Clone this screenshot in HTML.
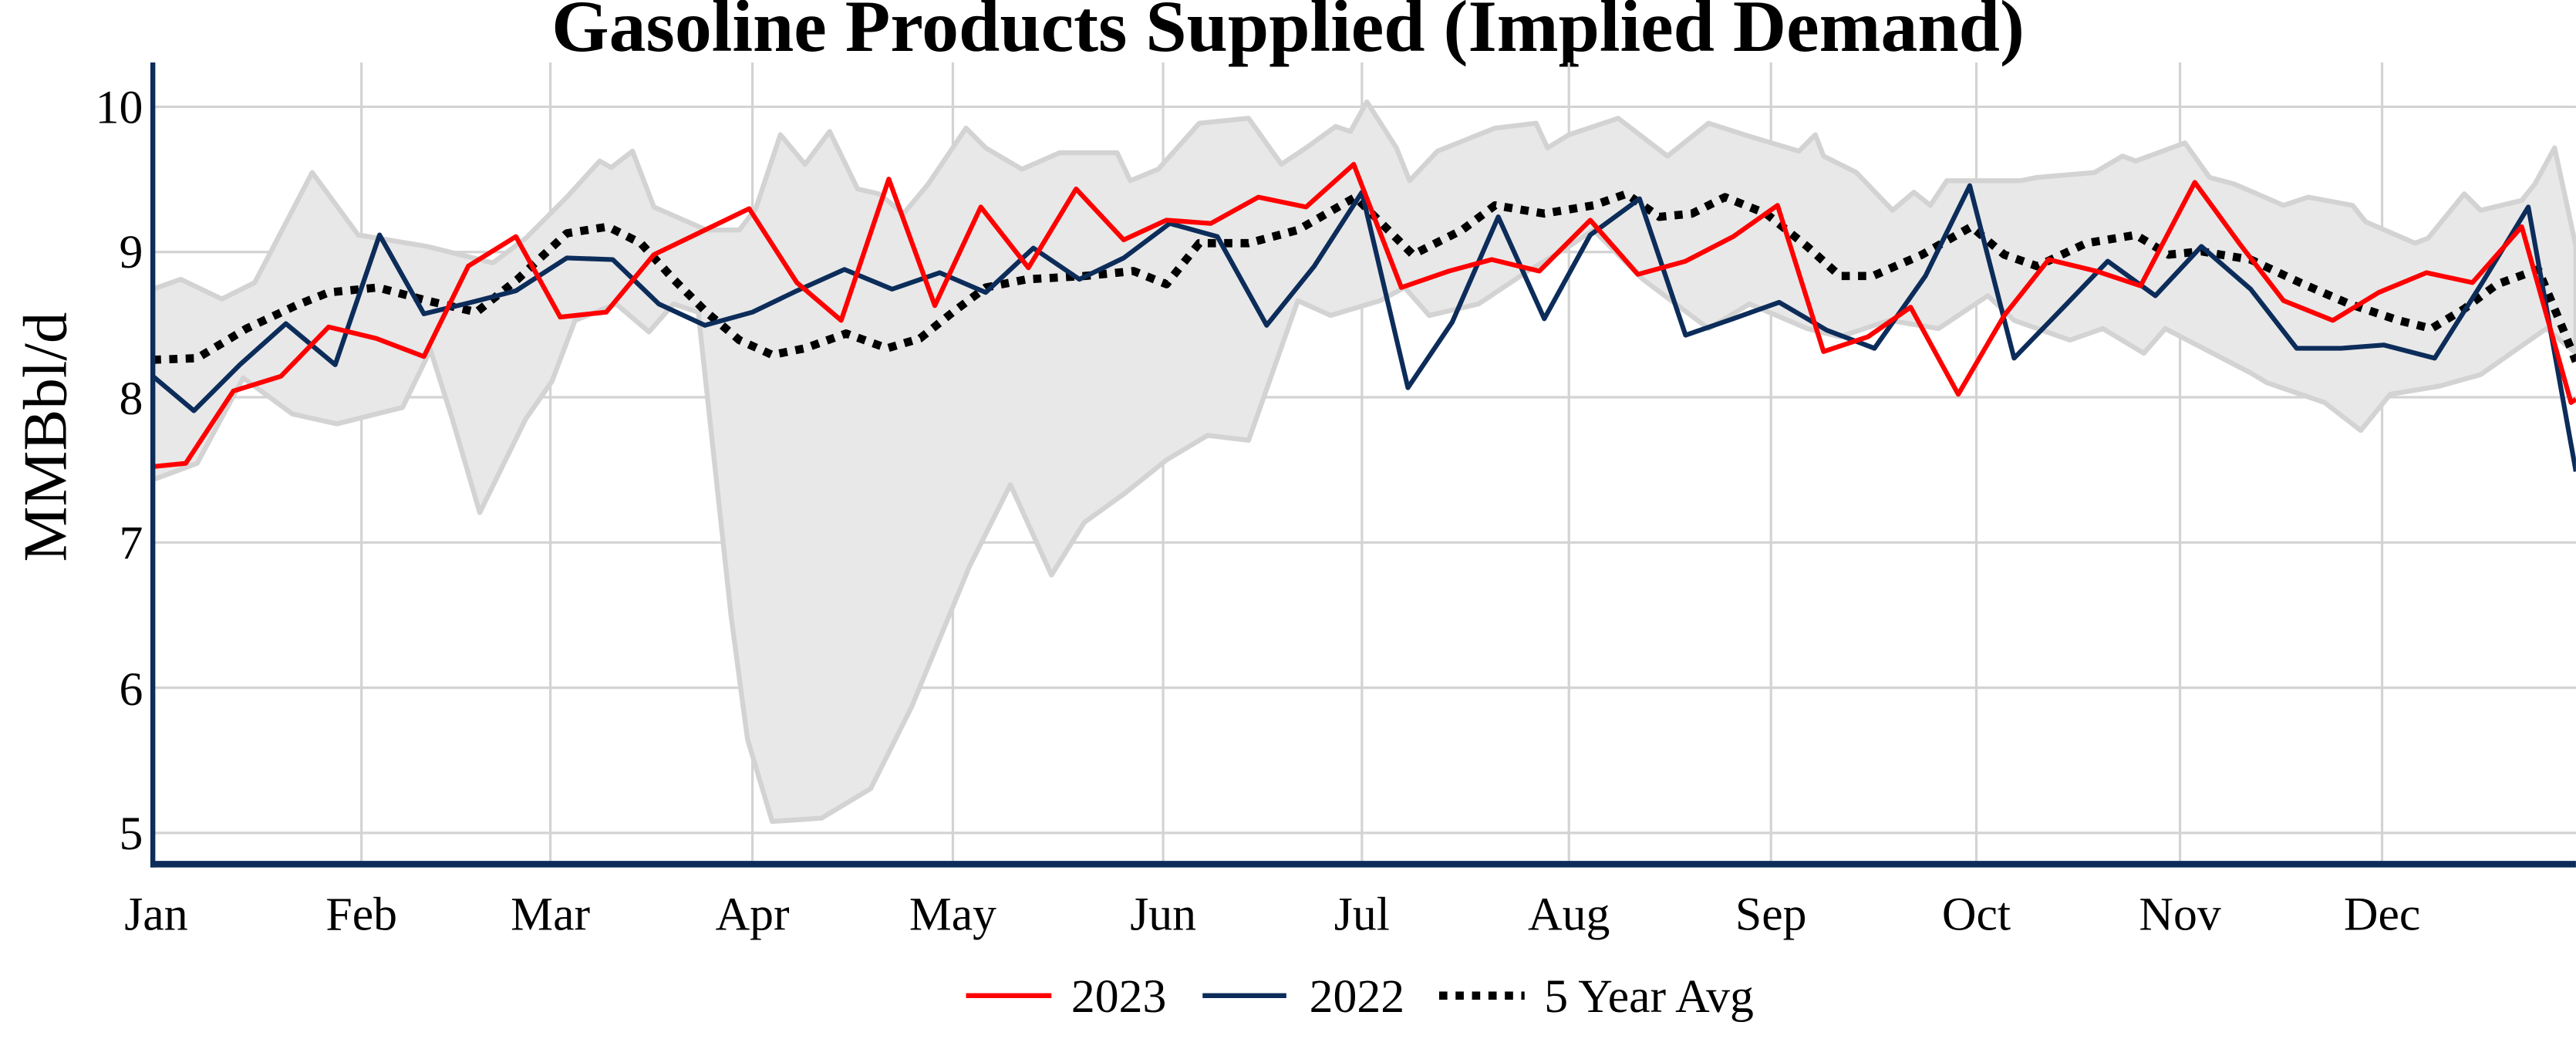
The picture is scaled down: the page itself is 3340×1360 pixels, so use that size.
<!DOCTYPE html>
<html><head><meta charset="utf-8"><style>
html,body{margin:0;padding:0;background:#fff;}
svg{display:block;}
text{font-family:"Liberation Serif",serif;fill:#000;}
</style></head><body>
<svg width="3340" height="1360" viewBox="0 0 1568 638.5" xmlns="http://www.w3.org/2000/svg">
<defs><clipPath id="c"><rect x="93" y="38" width="1475" height="488"/></clipPath></defs>
<text x="784" y="31" text-anchor="middle" font-size="45" font-weight="bold">Gasoline Products Supplied (Implied Demand)</text>
<g stroke="#d3d3d3" stroke-width="1.5">
<line x1="93" x2="1568" y1="65" y2="65"/><line x1="93" x2="1568" y1="153.4" y2="153.4"/><line x1="93" x2="1568" y1="241.8" y2="241.8"/><line x1="93" x2="1568" y1="330.2" y2="330.2"/><line x1="93" x2="1568" y1="418.6" y2="418.6"/><line x1="93" x2="1568" y1="507" y2="507"/>
<line x1="220" x2="220" y1="38" y2="526"/><line x1="335" x2="335" y1="38" y2="526"/><line x1="458" x2="458" y1="38" y2="526"/><line x1="580" x2="580" y1="38" y2="526"/><line x1="708" x2="708" y1="38" y2="526"/><line x1="829" x2="829" y1="38" y2="526"/><line x1="955" x2="955" y1="38" y2="526"/><line x1="1078" x2="1078" y1="38" y2="526"/><line x1="1203" x2="1203" y1="38" y2="526"/><line x1="1327" x2="1327" y1="38" y2="526"/><line x1="1450" x2="1450" y1="38" y2="526"/>
</g>
<g clip-path="url(#c)" fill="none" stroke-linejoin="round">
<polygon fill="#e8e8e8" stroke="#d3d3d3" stroke-width="3" points="93,176 110,170 135,182 155,172 190,105 218,143 260,150 300,160 320,145 345,120 365,98 372,102 385,92 398,126 430,140 450,140 460,127 475,82 490,100 505,80 522,115 535,118 550,130 565,112 588,78 600,90 622,103 645,93 680,93 688,110 705,103 730,75 760,72 780,100 795,90 813,77 822,80 832,62 850,90 858,110 875,92 910,78 935,75 942,90 955,82 985,72 1015,95 1040,75 1065,83 1095,92 1105,82 1110,95 1130,105 1152,128 1165,117 1175,125 1185,110 1230,110 1240,108 1275,105 1292,95 1300,98 1330,87 1345,108 1360,112 1390,125 1405,120 1432,125 1440,135 1470,148 1478,145 1500,118 1510,128 1535,122 1543,112 1555,90 1568,150 1568,215 1550,200 1510,228 1485,235 1455,240 1437,262 1415,245 1380,233 1370,227 1318,200 1305,215 1280,200 1260,207 1226,195 1210,180 1180,200 1150,195 1120,205 1100,200 1065,185 1040,200 1000,170 970,140 955,150 930,165 900,185 870,192 855,175 840,183 810,192 790,183 760,268 735,265 710,280 685,300 660,318 640,350 615,295 590,345 555,430 530,480 500,498 470,500 455,450 445,375 425,190 410,185 395,202 375,185 350,195 336,232 320,255 292,312 275,254 262,213 245,248 225,253 205,258 178,252 148,230 120,282 93,292"/>
<polyline stroke="#000" stroke-width="5" stroke-dasharray="5,5" points="93,219 120,218 150,200 180,186 200,178 230,175 260,183 290,190 315,170 345,142 370,138 390,148 410,170 430,190 450,207 470,216 490,212 515,203 540,212 560,206 580,190 600,175 625,170 660,168 690,165 710,173 730,148 760,148 790,140 825,120 860,155 890,140 910,125 940,130 970,125 990,118 1010,132 1030,130 1050,120 1075,130 1100,150 1120,168 1140,168 1170,155 1200,138 1220,155 1240,162 1270,148 1300,143 1320,155 1340,153 1370,158 1400,172 1430,185 1460,195 1480,200 1500,188 1520,173 1545,164 1560,200 1568,220"/>
<polyline stroke="#0c2c5a" stroke-width="2.9" points="93,229 118,250 146,222 174,197 204,222 231,143 258,191 287,184 314,177 345,157 373,158 401,185 429,198 458,190 485,177 514,164 543,176 572,166 600,178 629,151 657,170 684,157 712,136 741,144 771,198 800,162 829,117 857,236 884,196 912,132 940,194 968,143 998,121 1026,204 1055,194 1083,184 1112,201 1141,212 1172,168 1199,113 1226,218 1258,185 1283,159 1312,180 1340,150 1370,176 1398,212 1425,212 1451,210 1482,218 1511,172 1539,126 1568,287"/>
<polyline stroke="#ff0000" stroke-width="2.9" points="93,284 113,282 142,238 171,229 200,199 229,206 258,217 285,162 314,144 341,193 369,190 398,155 427,141 456,127 485,172 512,195 541,109 569,186 597,126 626,163 655,115 684,146 710,134 737,136 766,120 795,126 824,100 853,175 882,165 908,158 937,165 968,134 997,167 1026,159 1055,144 1082,125 1110,214 1137,205 1163,187 1192,240 1220,192 1247,158 1276,165 1303,174 1336,111 1363,148 1390,183 1420,195 1448,178 1477,166 1505,172 1535,138 1565,245 1568,243"/>
</g>
<line x1="93" x2="93" y1="38" y2="528" stroke="#0c2c5a" stroke-width="3"/>
<line x1="91.5" x2="1568" y1="526" y2="526" stroke="#0c2c5a" stroke-width="4"/>
<g font-size="29" text-anchor="end">
<text x="87" y="75">10</text><text x="87" y="163">9</text><text x="87" y="252">8</text><text x="87" y="340">7</text><text x="87" y="429">6</text><text x="87" y="517">5</text>
</g>
<text transform="translate(40,266) rotate(-90)" font-size="38" text-anchor="middle">MMBbl/d</text>
<g font-size="29" text-anchor="middle">
<text x="95" y="566">Jan</text><text x="220" y="566">Feb</text><text x="335" y="566">Mar</text><text x="458" y="566">Apr</text><text x="580" y="566">May</text><text x="708" y="566">Jun</text><text x="829" y="566">Jul</text><text x="955" y="566">Aug</text><text x="1078" y="566">Sep</text><text x="1203" y="566">Oct</text><text x="1327" y="566">Nov</text><text x="1450" y="566">Dec</text>
</g>
<line x1="588" x2="640" y1="606" y2="606" stroke="#ff0000" stroke-width="3"/>
<line x1="732" x2="783" y1="606" y2="606" stroke="#0c2c5a" stroke-width="3"/>
<line x1="876" x2="928" y1="606" y2="606" stroke="#000" stroke-width="5" stroke-dasharray="5,5"/>
<g font-size="29"><text x="652" y="616">2023</text><text x="797" y="616">2022</text><text x="940" y="616">5 Year Avg</text></g>
</svg>
</body></html>
